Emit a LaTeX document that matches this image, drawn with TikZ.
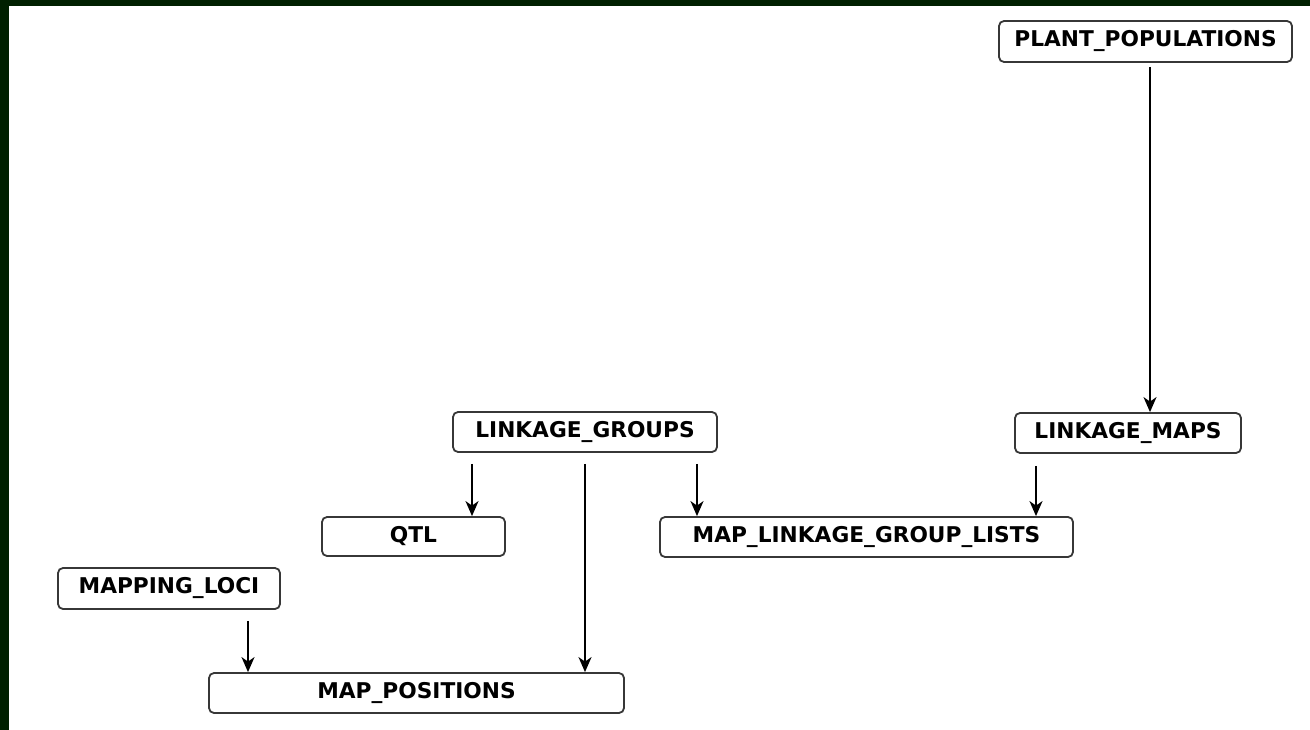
\documentclass[tikz,border=0pt]{standalone}
\usepackage{fontspec}
\setmainfont{DejaVu Sans}
\usetikzlibrary{arrows.meta}
\definecolor{frame}{RGB}{0,32,0}
\definecolor{boxline}{RGB}{55,55,55}
\tikzset{
  tbl/.style={draw=boxline, line width=1.8pt, rounded corners=5pt, fill=white,
    inner sep=0pt, font=\fontsize{21.7}{24}\selectfont\bfseries, text=black},
  arr/.style={draw=black, line width=1.7pt, -{Stealth[length=15pt,width=13pt,inset=4.5pt]}}
}
\begin{document}
\begin{tikzpicture}[x=1pt,y=1pt]
\useasboundingbox (0,0) rectangle (1310,-730);
\fill[frame] (0,0) rectangle (1310,-730);
\fill[white] (9,-6) rectangle (1310,-730);

\node[tbl, minimum width=293pt, minimum height=41pt] (pp) at (1145.5,-41.5) {PLANT\_POPULATIONS};
\node[tbl, minimum width=226pt, minimum height=40pt] (lm) at (1128,-433) {LINKAGE\_MAPS};
\node[tbl, minimum width=264pt, minimum height=40pt] (lg) at (585,-432) {LINKAGE\_GROUPS};
\node[tbl, minimum width=413pt, minimum height=40pt] (mlgl) at (866.5,-537) {MAP\_LINKAGE\_GROUP\_LISTS};
\node[tbl, minimum width=183pt, minimum height=39pt] (qtl) at (413.5,-536.5) {QTL};
\node[tbl, minimum width=222pt, minimum height=41pt] (ml) at (169,-588.5) {MAPPING\_LOCI};
\node[tbl, minimum width=415pt, minimum height=40pt] (mp) at (416.5,-693) {MAP\_POSITIONS};

\coordinate (s1) at ([xshift=4.5pt,yshift=-4pt]pp.south);
\coordinate (s2) at ([xshift=-92pt,yshift=-12pt]lm.south);
\coordinate (s3) at ([xshift=-113pt,yshift=-11pt]lg.south);
\coordinate (s4) at ([yshift=-11pt]lg.south);
\coordinate (s5) at ([xshift=112pt,yshift=-11pt]lg.south);
\coordinate (s6) at ([xshift=79pt,yshift=-11pt]ml.south);

\draw[arr] (s1) -- (s1 |- lm.north);
\draw[arr] (s2) -- (s2 |- mlgl.north);
\draw[arr] (s3) -- (s3 |- qtl.north);
\draw[arr] (s4) -- (s4 |- mp.north);
\draw[arr] (s5) -- (s5 |- mlgl.north);
\draw[arr] (s6) -- (s6 |- mp.north);
\end{tikzpicture}
\end{document}
